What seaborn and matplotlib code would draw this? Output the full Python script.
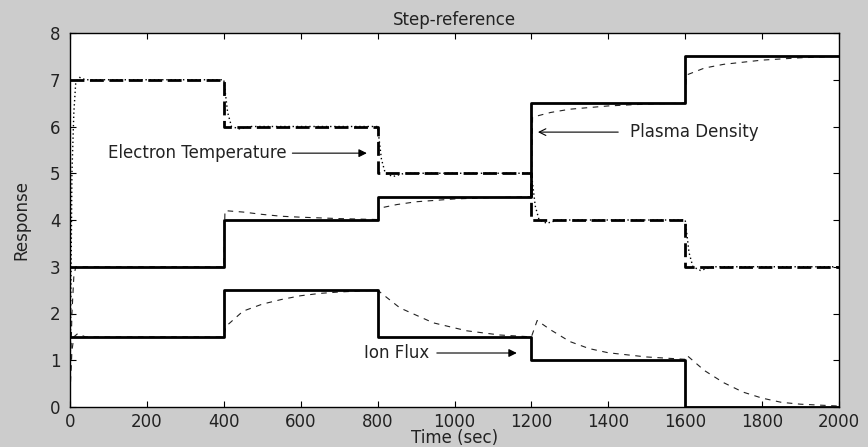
import numpy as np
import pandas as pd
import seaborn as sns
import matplotlib.pyplot as plt

# step references
step_t = [0, 400, 800, 1200, 1600, 2000]
pd_ref = [3.0, 4.0, 4.5, 6.5, 7.5, 7.5]
te_ref = [7.0, 6.0, 5.0, 4.0, 3.0, 3.0]
if_ref = [1.5, 2.5, 1.5, 1.0, 0.0, 0.0]

# plasma density response
pd_t = [0, 5, 10, 15, 400, 403, 450, 500, 550, 600, 700, 800,
        803, 850, 900, 1000, 1100, 1200, 1203, 1250, 1300, 1400, 1500, 1600,
        1603, 1650, 1700, 1800, 1900, 2000]
pd_resp = [0.3, 2.0, 2.8, 3.0, 3.0, 4.2, 4.17, 4.12, 4.08, 4.06, 4.03, 4.01,
           4.25, 4.33, 4.39, 4.45, 4.48, 4.5, 6.2, 6.3, 6.37, 6.44, 6.48, 6.5,
           7.1, 7.25, 7.33, 7.42, 7.47, 7.5]

# electron temperature response
te_t = [0, 5, 10, 15, 25, 40, 400, 410, 420, 440, 470, 800, 810, 820, 840, 870,
        1200, 1210, 1220, 1240, 1270, 1600, 1610, 1620, 1640, 1670, 2000]
te_resp = [0.3, 5.0, 6.3, 6.95, 7.05, 7.0, 7.0, 6.3, 6.0, 5.95, 6.0, 6.0, 5.3, 5.0,
           4.93, 5.0, 5.0, 4.3, 4.0, 3.93, 4.0, 4.0, 3.3, 3.0, 2.92, 3.0, 3.0]

# ion flux response
if_t = [0, 5, 10, 20, 40, 400, 405, 450, 500, 550, 600, 650, 700, 800,
        815, 858, 945, 1032, 1118, 1200, 1215, 1250, 1300, 1350, 1400, 1500, 1600,
        1605, 1650, 1700, 1750, 1800, 1850, 1900, 2000]
if_resp = [0.3, 1.2, 1.5, 1.57, 1.5, 1.5, 1.72, 2.05, 2.2, 2.3, 2.38, 2.43, 2.46, 2.5,
           2.4, 2.12, 1.8, 1.63, 1.54, 1.5, 1.85, 1.65, 1.4, 1.25, 1.16, 1.07, 1.02,
           1.1, 0.78, 0.52, 0.32, 0.19, 0.1, 0.06, 0.02]

sns.set_style("ticks")
plt.rcParams['font.family'] = ['DejaVu Sans']
plt.rcParams['xtick.direction'] = 'in'
plt.rcParams['ytick.direction'] = 'in'

fs = 12
txt = '#222222'

fig = plt.figure(figsize=(8.68, 4.47), dpi=100, facecolor='#cccccc')
ax = fig.add_axes([70 / 868, 40 / 447, 769 / 868, 374 / 447])
ax.set_facecolor('white')

ref = pd.DataFrame({'t': step_t, 'pd': pd_ref, 'te': te_ref, 'ion': if_ref})

sns.lineplot(x=pd_t, y=pd_resp, ax=ax, color='#222222', lw=0.8,
             linestyle=(0, (5, 5)), sort=False, estimator=None)
sns.lineplot(x=if_t, y=if_resp, ax=ax, color='#222222', lw=0.8,
             linestyle=(0, (5, 5)), sort=False, estimator=None)
sns.lineplot(x=te_t, y=te_resp, ax=ax, color='black', lw=1.0,
             linestyle=(0, (1, 2)), sort=False, estimator=None)

sns.lineplot(data=ref, x='t', y='pd', ax=ax, color='black', lw=2.0,
             drawstyle='steps-post', estimator=None)
sns.lineplot(data=ref, x='t', y='ion', ax=ax, color='black', lw=2.0,
             drawstyle='steps-post', estimator=None)
sns.lineplot(data=ref, x='t', y='te', ax=ax, color='black', lw=2.0,
             linestyle=(0, (5, 2)), drawstyle='steps-post', estimator=None)

ax.set_xlim(0, 2000)
ax.set_ylim(0, 8)
ax.set_xticks(np.arange(0, 2001, 200))
ax.set_yticks(np.arange(0, 9, 1))
ax.tick_params(top=True, right=True, length=4, width=0.8, labelsize=fs,
               colors='black', labelcolor=txt)
ax.tick_params(axis='x', pad=4)
ax.tick_params(axis='y', pad=7)
for s in ax.spines.values():
    s.set_linewidth(1.0)
    s.set_color('black')

ax.set_title('Step-reference', fontsize=fs, color=txt, pad=6)
ax.set_xlabel('Time (sec)', fontsize=fs, color=txt, labelpad=-1)
ax.set_ylabel('Response', fontsize=fs, color=txt, labelpad=14)

ax.annotate('Electron Temperature', xy=(772, 5.43), xytext=(98, 5.43),
            va='center', ha='left', fontsize=fs, color=txt,
            arrowprops=dict(arrowstyle='-|>', color='black', lw=0.8,
                            mutation_scale=12, shrinkA=2, shrinkB=0))
ax.annotate('Plasma Density', xy=(1217, 5.88), xytext=(1456, 5.88),
            va='center', ha='left', fontsize=fs, color=txt,
            arrowprops=dict(arrowstyle='->', color='black', lw=0.8,
                            mutation_scale=12, shrinkA=6, shrinkB=0))
ax.annotate('Ion Flux', xy=(1162, 1.155), xytext=(765, 1.155),
            va='center', ha='left', fontsize=fs, color=txt,
            arrowprops=dict(arrowstyle='-|>', color='black', lw=0.8,
                            mutation_scale=12, shrinkA=3, shrinkB=0))

plt.savefig('out.png', dpi=100, facecolor=fig.get_facecolor())
